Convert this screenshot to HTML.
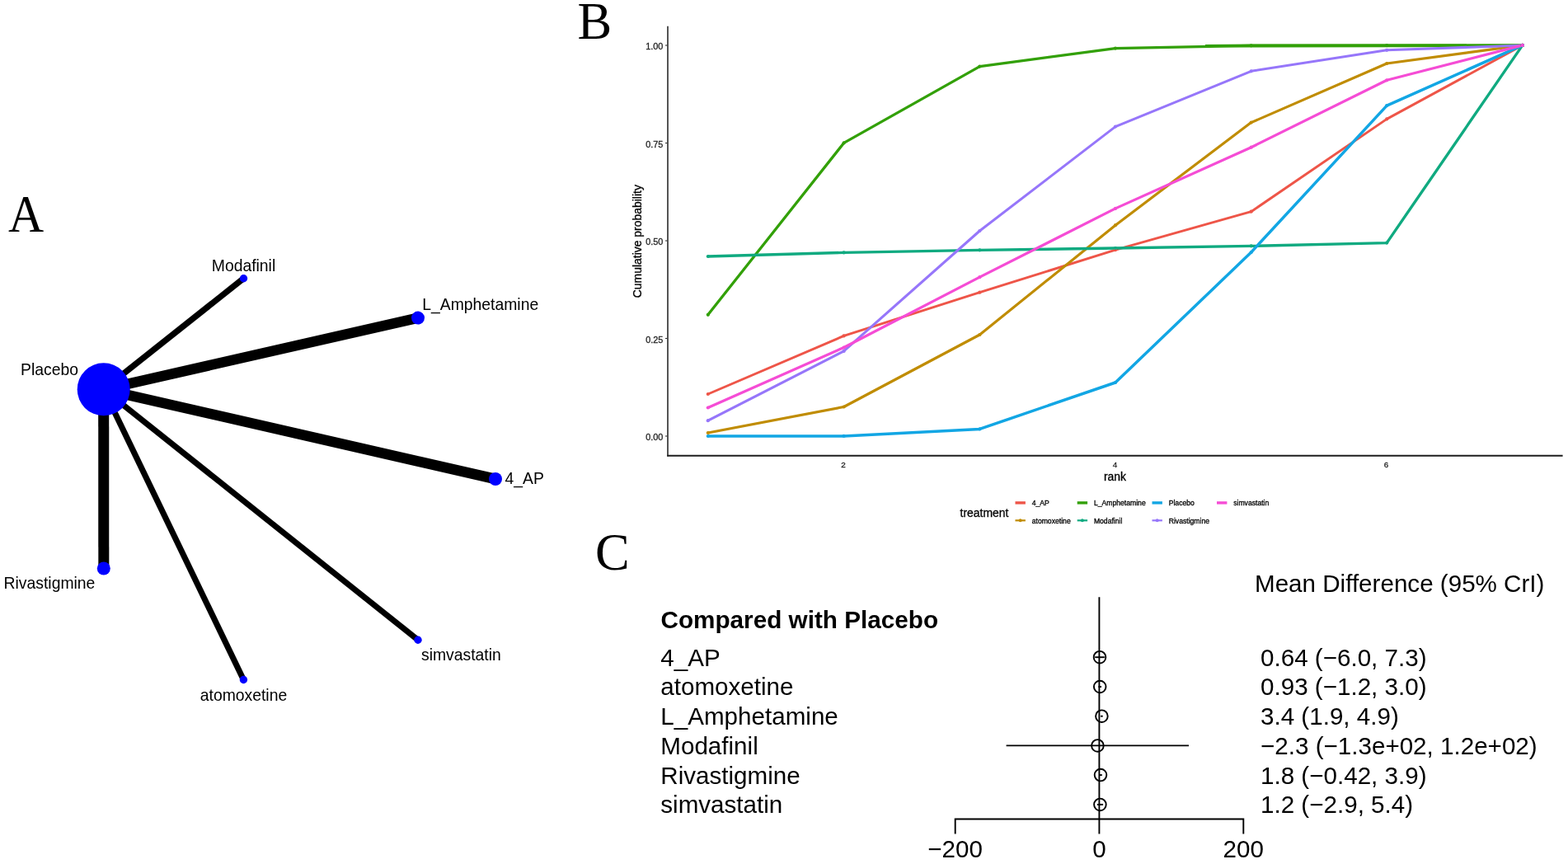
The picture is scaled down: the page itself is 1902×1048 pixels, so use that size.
<!DOCTYPE html>
<html lang="en"><head><meta charset="utf-8"><title>Network meta-analysis figure</title>
<style>
html,body{margin:0;padding:0;background:#fff;}
body{width:1902px;height:1048px;overflow:hidden;}
svg{display:block;}
text{font-family:"Liberation Sans",Arial,sans-serif;fill:#000;}
.panel{font-family:"Liberation Serif","Times New Roman",serif;font-size:62.5px;}
.lab{font-size:19.35px;}
.tick{font-size:10.9px;fill:#262626;stroke:#262626;stroke-width:0.3px;}
.axt{font-size:13.95px;stroke:#000;stroke-width:0.3px;}
.leg{font-size:8.65px;stroke:#000;stroke-width:0.3px;}
.ft{font-size:29.6px;}
.fb{font-size:29.7px;font-weight:bold;}
</style></head>
<body>
<svg width="1902" height="1048" viewBox="0 0 1902 1048">
<rect width="1902" height="1048" fill="#fff"/>
<g id="panelA">
<line x1="125.7" y1="472.3" x2="295.5" y2="337.7" stroke="#000" stroke-width="7.4"/>
<line x1="125.7" y1="472.3" x2="507" y2="385.6" stroke="#000" stroke-width="12.6"/>
<line x1="125.7" y1="472.3" x2="601" y2="581" stroke="#000" stroke-width="12.6"/>
<line x1="125.7" y1="472.3" x2="507.0" y2="776.2" stroke="#000" stroke-width="7.1"/>
<line x1="125.7" y1="472.3" x2="295.4" y2="824.5" stroke="#000" stroke-width="7.2"/>
<line x1="125.7" y1="472.3" x2="125.8" y2="689.5" stroke="#000" stroke-width="13.0"/>
<circle cx="125.7" cy="472.3" r="32" fill="#0000ff"/>
<circle cx="295.5" cy="337.7" r="4.7" fill="#0000ff"/>
<text x="295.5" y="329.4" text-anchor="middle" class="lab">Modafinil</text>
<circle cx="507" cy="385.6" r="8" fill="#0000ff"/>
<text x="512.3" y="375.8" text-anchor="start" class="lab">L_Amphetamine</text>
<circle cx="601" cy="581" r="8" fill="#0000ff"/>
<text x="612.6" y="587" text-anchor="start" class="lab">4_AP</text>
<circle cx="507.0" cy="776.2" r="4.7" fill="#0000ff"/>
<text x="511" y="801" text-anchor="start" class="lab">simvastatin</text>
<circle cx="295.4" cy="824.5" r="4.7" fill="#0000ff"/>
<text x="295.5" y="850.4" text-anchor="middle" class="lab">atomoxetine</text>
<circle cx="125.8" cy="689.5" r="8" fill="#0000ff"/>
<text x="4.6" y="713.7" text-anchor="start" class="lab">Rivastigmine</text>
<text x="25" y="455" class="lab">Placebo</text>
<text transform="translate(10,280.6) scale(0.957,1)" class="panel">A</text>
</g>
<g id="panelB">
<polyline points="858.8,478.0 1023.6,407.4 1188.4,354.7 1353.0,303.1 1517.7,256.7 1682.2,144.4 1846.8,54.9" fill="none" stroke="#EE5548" stroke-width="2.95" stroke-linejoin="round"/>
<polyline points="858.8,525.0 1023.6,493.5 1188.4,406.0 1353.0,273.2 1517.7,148.6 1682.2,77.0 1846.8,54.9" fill="none" stroke="#C08C00" stroke-width="3.15" stroke-linejoin="round"/>
<polyline points="858.8,381.8 1023.6,173.4 1188.4,80.6 1353.0,58.6 1517.7,55.3 1682.2,55.2 1846.8,54.9" fill="none" stroke="#32A008" stroke-width="3.3" stroke-linejoin="round"/>
<polygon points="1462,53.9 1520,53.5 1700,53.5 1842,53.6 1842,56.6 1700,57.3 1520,57.4 1462,57.1" fill="#32A008"/>
<polyline points="858.8,311.0 1023.6,306.4 1188.4,303.4 1353.0,301.0 1517.7,298.4 1682.2,294.6 1846.8,54.9" fill="none" stroke="#10AA80" stroke-width="3.4" stroke-linejoin="round"/>
<polyline points="858.8,529.0 1023.6,528.9 1188.4,520.4 1353.0,464.0 1517.7,306.0 1682.2,128.1 1846.8,54.9" fill="none" stroke="#12A6E4" stroke-width="3.5" stroke-linejoin="round"/>
<polyline points="858.8,510.2 1023.6,425.9 1188.4,280.0 1353.0,153.6 1517.7,86.3 1682.2,60.8 1846.8,55.0" fill="none" stroke="#9676FA" stroke-width="3.05" stroke-linejoin="round"/>
<polyline points="858.8,494.5 1023.6,421.5 1188.4,336.2 1353.0,252.9 1517.7,178.7 1682.2,97.3 1846.8,54.9" fill="none" stroke="#F54CD5" stroke-width="3.2" stroke-linejoin="round"/>
<g fill="#EE5548"><circle cx="858.8" cy="478.0" r="2.1"/><circle cx="1023.6" cy="407.4" r="2.1"/><circle cx="1188.4" cy="354.7" r="2.1"/><circle cx="1353.0" cy="303.1" r="2.1"/><circle cx="1517.7" cy="256.7" r="2.1"/><circle cx="1682.2" cy="144.4" r="2.1"/><circle cx="1846.8" cy="54.9" r="2.1"/></g>
<g fill="#C08C00"><circle cx="858.8" cy="525.0" r="2.1"/><circle cx="1023.6" cy="493.5" r="2.1"/><circle cx="1188.4" cy="406.0" r="2.1"/><circle cx="1353.0" cy="273.2" r="2.1"/><circle cx="1517.7" cy="148.6" r="2.1"/><circle cx="1682.2" cy="77.0" r="2.1"/><circle cx="1846.8" cy="54.9" r="2.1"/></g>
<g fill="#32A008"><circle cx="858.8" cy="381.8" r="2.1"/><circle cx="1023.6" cy="173.4" r="2.1"/><circle cx="1188.4" cy="80.6" r="2.1"/><circle cx="1353.0" cy="58.6" r="2.1"/><circle cx="1517.7" cy="55.3" r="2.1"/><circle cx="1682.2" cy="55.2" r="2.1"/><circle cx="1846.8" cy="54.9" r="2.1"/></g>
<g fill="#10AA80"><circle cx="858.8" cy="311.0" r="2.1"/><circle cx="1023.6" cy="306.4" r="2.1"/><circle cx="1188.4" cy="303.4" r="2.1"/><circle cx="1353.0" cy="301.0" r="2.1"/><circle cx="1517.7" cy="298.4" r="2.1"/><circle cx="1682.2" cy="294.6" r="2.1"/><circle cx="1846.8" cy="54.9" r="2.1"/></g>
<g fill="#12A6E4"><circle cx="858.8" cy="529.0" r="2.1"/><circle cx="1023.6" cy="528.9" r="2.1"/><circle cx="1188.4" cy="520.4" r="2.1"/><circle cx="1353.0" cy="464.0" r="2.1"/><circle cx="1517.7" cy="306.0" r="2.1"/><circle cx="1682.2" cy="128.1" r="2.1"/><circle cx="1846.8" cy="54.9" r="2.1"/></g>
<g fill="#9676FA"><circle cx="858.8" cy="510.2" r="2.1"/><circle cx="1023.6" cy="425.9" r="2.1"/><circle cx="1188.4" cy="280.0" r="2.1"/><circle cx="1353.0" cy="153.6" r="2.1"/><circle cx="1517.7" cy="86.3" r="2.1"/><circle cx="1682.2" cy="60.8" r="2.1"/><circle cx="1846.8" cy="55.0" r="2.1"/></g>
<g fill="#F54CD5"><circle cx="858.8" cy="494.5" r="2.1"/><circle cx="1023.6" cy="421.5" r="2.1"/><circle cx="1188.4" cy="336.2" r="2.1"/><circle cx="1353.0" cy="252.9" r="2.1"/><circle cx="1517.7" cy="178.7" r="2.1"/><circle cx="1682.2" cy="97.3" r="2.1"/><circle cx="1846.8" cy="54.9" r="2.1"/></g>
<line x1="810" y1="31.7" x2="810" y2="553.6" stroke="#2a2a2a" stroke-width="1.6"/>
<line x1="809.2" y1="552.7" x2="1895.6" y2="552.7" stroke="#1c1c1c" stroke-width="2"/>
<line x1="807" y1="529.0" x2="809.5" y2="529.0" stroke="#333" stroke-width="1.1"/>
<text x="804.4" y="534.0" text-anchor="end" class="tick">0.00</text>
<line x1="807" y1="410.5" x2="809.5" y2="410.5" stroke="#333" stroke-width="1.1"/>
<text x="804.4" y="415.5" text-anchor="end" class="tick">0.25</text>
<line x1="807" y1="292.0" x2="809.5" y2="292.0" stroke="#333" stroke-width="1.1"/>
<text x="804.4" y="297.0" text-anchor="end" class="tick">0.50</text>
<line x1="807" y1="173.5" x2="809.5" y2="173.5" stroke="#333" stroke-width="1.1"/>
<text x="804.4" y="178.5" text-anchor="end" class="tick">0.75</text>
<line x1="807" y1="55.0" x2="809.5" y2="55.0" stroke="#333" stroke-width="1.1"/>
<text x="804.4" y="60.0" text-anchor="end" class="tick">1.00</text>
<text x="1023.0" y="566.5" text-anchor="middle" class="tick" style="font-size:9.9px">2</text>
<text x="1352.4" y="566.5" text-anchor="middle" class="tick" style="font-size:9.9px">4</text>
<text x="1681.6" y="566.5" text-anchor="middle" class="tick" style="font-size:9.9px">6</text>
<text x="1352.5" y="583.2" text-anchor="middle" class="axt">rank</text>
<text transform="translate(778.0,292.7) rotate(-90)" text-anchor="middle" class="axt">Cumulative probability</text>
<text x="1164.6" y="626.5" class="axt">treatment</text>
<line x1="1231.5" y1="609.9" x2="1243.9" y2="609.9" stroke="#EE5548" stroke-width="3.4"/>
<text x="1251.7" y="613.2" class="leg">4_AP</text>
<line x1="1231.5" y1="631.3" x2="1243.9" y2="631.3" stroke="#C08C00" stroke-width="2.2"/>
<circle cx="1237.7" cy="631.3" r="2" fill="#C08C00"/>
<text x="1251.7" y="634.6" class="leg">atomoxetine</text>
<line x1="1306.7" y1="609.9" x2="1319.1000000000001" y2="609.9" stroke="#32A008" stroke-width="3.4"/>
<text x="1326.9" y="613.2" class="leg">L_Amphetamine</text>
<line x1="1306.7" y1="631.3" x2="1319.1000000000001" y2="631.3" stroke="#10AA80" stroke-width="2.2"/>
<circle cx="1312.9" cy="631.3" r="2" fill="#10AA80"/>
<text x="1326.9" y="634.6" class="leg">Modafinil</text>
<line x1="1397.5" y1="609.9" x2="1409.9" y2="609.9" stroke="#12A6E4" stroke-width="3.4"/>
<text x="1417.7" y="613.2" class="leg">Placebo</text>
<line x1="1397.5" y1="631.3" x2="1409.9" y2="631.3" stroke="#9676FA" stroke-width="2.2"/>
<circle cx="1403.7" cy="631.3" r="2" fill="#9676FA"/>
<text x="1417.7" y="634.6" class="leg">Rivastigmine</text>
<line x1="1476" y1="609.9" x2="1488.4" y2="609.9" stroke="#F54CD5" stroke-width="3.4"/>
<text x="1496.2" y="613.2" class="leg">simvastatin</text>
<text x="700.4" y="46.6" class="panel">B</text>
</g>
<g id="panelC">
<text x="722" y="691" class="panel">C</text>
<text x="801.5" y="761.6" class="fb">Compared with Placebo</text>
<text x="1522" y="717.7" class="ft">Mean Difference (95% CrI)</text>
<line x1="1333.4" y1="724.2" x2="1333.4" y2="1011.6" stroke="#000" stroke-width="1.9"/>
<text x="801.3" y="807.6" class="ft">4_AP</text>
<text x="1529" y="807.6" class="ft">0.64 (−6.0, 7.3)</text>
<line x1="1328.2" y1="797.2" x2="1339.8" y2="797.2" stroke="#000" stroke-width="1.9"/>
<circle cx="1334.0" cy="797.2" r="7.3" fill="none" stroke="#000" stroke-width="1.9"/>
<text x="801.3" y="843.3" class="ft">atomoxetine</text>
<text x="1529" y="843.3" class="ft">0.93 (−1.2, 3.0)</text>
<line x1="1332.4" y1="833.0" x2="1336.0" y2="833.0" stroke="#000" stroke-width="1.9"/>
<circle cx="1334.2" cy="833.0" r="7.3" fill="none" stroke="#000" stroke-width="1.9"/>
<text x="801.3" y="879.0" class="ft">L_Amphetamine</text>
<text x="1529" y="879.0" class="ft">3.4 (1.9, 4.9)</text>
<line x1="1335.1" y1="868.7" x2="1337.7" y2="868.7" stroke="#000" stroke-width="1.9"/>
<circle cx="1336.4" cy="868.7" r="7.3" fill="none" stroke="#000" stroke-width="1.9"/>
<text x="801.3" y="914.8" class="ft">Modafinil</text>
<text x="1529" y="914.8" class="ft">−2.3 (−1.3e+02, 1.2e+02)</text>
<line x1="1220.6" y1="904.4" x2="1442" y2="904.4" stroke="#000" stroke-width="1.9"/>
<circle cx="1331.4" cy="904.4" r="7.3" fill="none" stroke="#000" stroke-width="1.9"/>
<text x="801.3" y="950.5" class="ft">Rivastigmine</text>
<text x="1529" y="950.5" class="ft">1.8 (−0.42, 3.9)</text>
<line x1="1333.0" y1="940.1" x2="1336.8" y2="940.1" stroke="#000" stroke-width="1.9"/>
<circle cx="1335.0" cy="940.1" r="7.3" fill="none" stroke="#000" stroke-width="1.9"/>
<text x="801.3" y="986.2" class="ft">simvastatin</text>
<text x="1529" y="986.2" class="ft">1.2 (−2.9, 5.4)</text>
<line x1="1330.9" y1="975.9" x2="1338.1" y2="975.9" stroke="#000" stroke-width="1.9"/>
<circle cx="1334.4" cy="975.9" r="7.3" fill="none" stroke="#000" stroke-width="1.9"/>
<path d="M1158.7 1011.6V993.5H1508.3V1011.6" fill="none" stroke="#000" stroke-width="1.9"/>
<text x="1158.6" y="1039.8" text-anchor="middle" class="ft">−200</text>
<text x="1333.4" y="1039.8" text-anchor="middle" class="ft">0</text>
<text x="1508.2" y="1039.8" text-anchor="middle" class="ft">200</text>
</g>
</svg>
</body></html>
